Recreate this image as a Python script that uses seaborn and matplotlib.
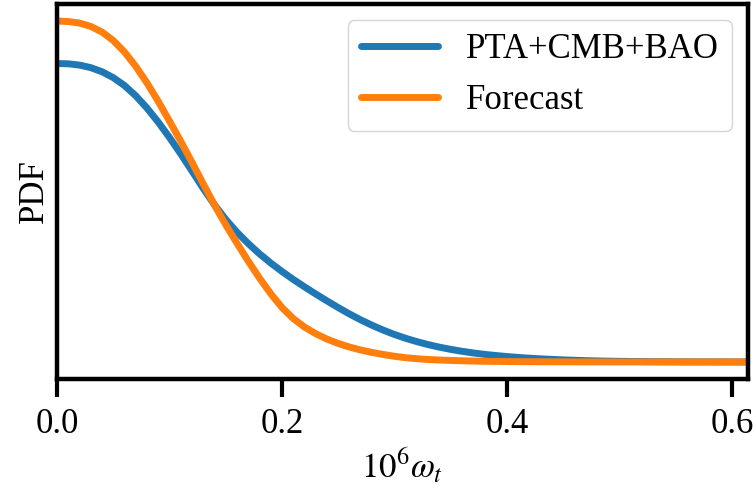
import numpy as np
import pandas as pd
import matplotlib
matplotlib.use("Agg")
import matplotlib.pyplot as plt
import seaborn as sns

# ================================
# Data
# ================================
omega = [0.00, 0.01, 0.02, 0.03, 0.04, 0.05, 0.06, 0.07, 0.08, 0.09,
         0.10, 0.11, 0.12, 0.13, 0.14, 0.15, 0.16, 0.17, 0.18, 0.19,
         0.20, 0.21, 0.22, 0.23, 0.24, 0.25, 0.26, 0.27, 0.28, 0.29,
         0.30, 0.31, 0.32, 0.33, 0.34, 0.35, 0.36, 0.37, 0.38, 0.39,
         0.40, 0.41, 0.42, 0.43, 0.44, 0.45, 0.46, 0.47, 0.48, 0.49,
         0.50, 0.51, 0.52, 0.53, 0.54, 0.55, 0.56, 0.57, 0.58, 0.59,
         0.60, 0.614]

pdf_pta = [11.65, 11.64, 11.59, 11.49, 11.33, 11.10, 10.79, 10.39, 9.91, 9.36,
           8.76, 8.12, 7.45, 6.77, 6.13, 5.56, 5.06, 4.62, 4.22, 3.86,
           3.53, 3.22, 2.93, 2.65, 2.38, 2.12, 1.87, 1.64, 1.43, 1.24,
           1.07, 0.92, 0.79, 0.675, 0.575, 0.49, 0.415, 0.35, 0.295, 0.25,
           0.21, 0.175, 0.145, 0.12, 0.10, 0.08, 0.065, 0.05, 0.04, 0.03,
           0.024, 0.018, 0.014, 0.010, 0.008, 0.006, 0.004, 0.003, 0.002, 0.001,
           0.0, 0.0]

pdf_forecast = [13.31, 13.29, 13.23, 13.10, 12.88, 12.55, 12.10, 11.54, 10.89, 10.17,
                9.40, 8.61, 7.79, 6.95, 6.12, 5.35, 4.63, 3.93, 3.27, 2.66,
                2.12, 1.69, 1.36, 1.10, 0.89, 0.72, 0.58, 0.465, 0.37, 0.29,
                0.22, 0.165, 0.125, 0.095, 0.075, 0.058, 0.045, 0.035, 0.027, 0.021,
                0.016, 0.012, 0.009, 0.007, 0.005, 0.004, 0.003, 0.002, 0.001, 0.0,
                0.0, 0.0, 0.0, 0.0, 0.0, 0.0, 0.0, 0.0, 0.0, 0.0,
                0.0, 0.0]

labels = ["PTA+CMB+BAO", "Forecast"]

df = pd.DataFrame({
    "omega": omega * 2,
    "pdf": pdf_pta + pdf_forecast,
    "curve": [labels[0]] * len(omega) + [labels[1]] * len(omega),
})

# ================================
# Style
# ================================
sns.set_style("ticks")
plt.rcParams["font.family"] = ["Liberation Serif", "DejaVu Serif"]
plt.rcParams["mathtext.fontset"] = "stix"
plt.rcParams["font.size"] = 25
plt.rcParams["text.color"] = "black"
plt.rcParams["axes.labelcolor"] = "black"
plt.rcParams["xtick.color"] = "black"
plt.rcParams["ytick.color"] = "black"

fig = plt.figure(figsize=(7.56, 4.92), dpi=100)
ax = fig.add_axes([0.0754, 0.2297, 0.9140, 0.7622])

sns.lineplot(data=df, x="omega", y="pdf", hue="curve",
             palette=["#1f77b4", "#ff7f0e"], linewidth=5, ax=ax)

ax.set_xlim(0, 0.614)
ax.set_xticks([0.0, 0.2, 0.4, 0.6])
ax.set_xticklabels(["0.0", "0.2", "0.4", "0.6"])
ax.set_yticks([])
ax.set_xlabel(r"$10^6\omega_t$")
ax.set_ylabel("PDF")

for s in ax.spines.values():
    s.set_linewidth(3.2)
    s.set_color("black")
ax.tick_params(axis="x", length=13, width=3, pad=8, labelsize=25)

leg = ax.legend(loc="upper right", fontsize=25, handlelength=2.2,
                borderaxespad=0.45, frameon=True)
for line in leg.get_lines():
    line.set_linewidth(5)

fig.savefig("out.png", dpi=100)
